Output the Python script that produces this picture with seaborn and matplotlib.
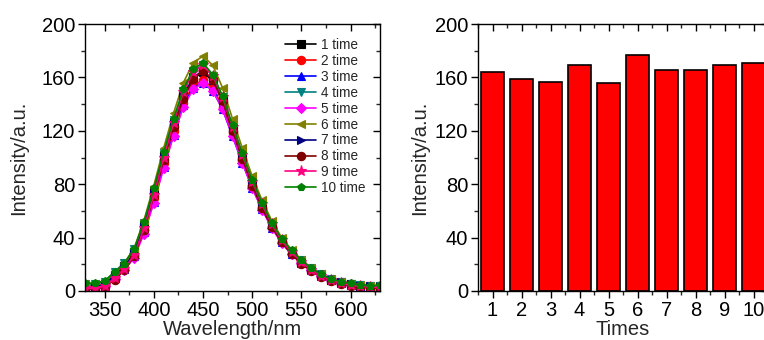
import numpy as np
import pandas as pd
import matplotlib
matplotlib.use("Agg")
import matplotlib.pyplot as plt
from matplotlib.ticker import MultipleLocator
import seaborn as sns

# ---------------- data ----------------
wavelength = list(range(330, 631, 10))

s1 = [3.5, 3.5, 5.5, 12, 18.5, 29, 49, 74, 101, 126, 146, 159, 164, 157, 142, 121, 100, 81, 64, 49.5, 38, 29, 22, 16.5, 12, 8.5, 6.5, 5, 4, 3.5, 3.5]
s2 = [3, 3, 4.5, 10.5, 17, 27, 46, 70, 96, 120, 141, 154, 158, 152, 138, 118, 98, 79, 62.5, 48, 37, 28, 21.5, 16, 11.5, 8, 6, 4.5, 3.5, 3, 3]
s3 = [2.5, 2.5, 4, 10, 16.5, 26, 44, 67, 93, 117, 139, 152, 156, 150, 136, 116, 96, 77.5, 61.5, 47.5, 36.5, 28, 21, 15.5, 11, 8, 6, 4.5, 3.5, 3, 3]
s4 = [5, 5, 7, 14.5, 21, 31.5, 51, 76, 103, 128, 150, 165, 169, 161, 145, 124, 103, 83, 66, 51, 39, 30, 23, 17, 12.5, 9, 7, 5.5, 4.5, 4, 4]
s5 = [2, 2, 3.5, 9, 15.5, 25, 43, 66, 92, 116, 138, 151, 156, 150, 136, 116, 96, 77, 61, 47, 36, 27.5, 21, 15.5, 11, 8, 6, 4.5, 3.5, 3, 2.5]
s6 = [5.5, 5.5, 7.5, 14, 21, 32, 53, 79, 107, 133, 156, 171, 176, 169, 152, 129, 107, 86, 68, 52.5, 40, 31, 23.5, 17.5, 12.5, 9, 7, 5.5, 4.5, 4, 4]
s7 = [3, 3, 5, 11.5, 18, 28.5, 48, 73, 100, 125, 146, 160, 165, 158, 143, 122, 101, 81, 64, 49.5, 38, 29, 22, 16.5, 12, 8.5, 6.5, 5, 4, 3.5, 3]
s8 = [1.5, 1.5, 3, 8.5, 15.5, 26, 46, 71, 98, 123, 144, 159, 165, 158, 142, 120, 99, 79, 62, 48, 36.5, 27.5, 20.5, 15, 10.5, 7.5, 5.5, 4, 3, 2.5, 2]
s9 = [2, 2, 3.5, 9.5, 16.5, 27, 47, 72, 100, 126, 149, 164, 169, 161, 145, 123, 102, 82, 65, 50, 38, 29, 22, 16, 11.5, 8, 6, 4.5, 3.5, 3, 2.5]
s10 = [6.0, 5.7, 7.6, 14, 20.5, 31.5, 52, 77, 104, 129, 151, 166, 171, 162, 146, 124, 103, 83, 66, 51, 39, 30.5, 23, 17, 12.5, 9, 7, 5.7, 4.5, 4, 4.2]

series_values = [s1, s2, s3, s4, s5, s6, s7, s8, s9, s10]
series_labels = ["1 time", "2 time", "3 time", "4 time", "5 time",
                 "6 time", "7 time", "8 time", "9 time", "10 time"]
series_colors = ["#000000", "#FF0000", "#0000FF", "#008080", "#FF00FF",
                 "#808000", "#000080", "#800000", "#FF0080", "#008000"]
series_markers = ["s", "o", "^", "v", "D", "<", ">", "o", "*", "p"]

times = ["1", "2", "3", "4", "5", "6", "7", "8", "9", "10"]
peak_intensity = [164, 158.5, 156.2, 169, 156, 176.5, 165.5, 165.7, 169, 170.7]

# ---------------- style ----------------
sns.set_theme(style="ticks")
plt.rcParams["font.family"] = ["Liberation Sans", "DejaVu Sans"]
plt.rcParams["axes.linewidth"] = 1.0

W, H = 764, 340
fig = plt.figure(figsize=(W / 100, H / 100), dpi=100)
fig.patch.set_facecolor("white")

ax1 = fig.add_axes([85 / W, (H - 291) / H, (380 - 85) / W, (291 - 24) / H])
ax2 = fig.add_axes([478 / W, (H - 291) / H, (768 - 478) / W, (291 - 24) / H])

FS = 14.5

# ---------------- left panel ----------------
for vals, lab, col, mk in zip(series_values, series_labels, series_colors, series_markers):
    ms = 5 if mk == "D" else (8 if mk == "*" else 6)
    sns.lineplot(x=wavelength, y=vals, ax=ax1, color=col, marker=mk,
                 markersize=ms, markeredgecolor=col, markerfacecolor=col,
                 markeredgewidth=0.8, linewidth=1.2, label=lab)

ax1.set_xlim(330, 630)
ax1.set_ylim(0, 200)
ax1.xaxis.set_major_locator(MultipleLocator(50))
ax1.xaxis.set_minor_locator(MultipleLocator(25))
ax1.yaxis.set_major_locator(MultipleLocator(40))
ax1.yaxis.set_minor_locator(MultipleLocator(20))
ax1.set_xlabel("Wavelength/nm", fontsize=FS, labelpad=0)
ax1.set_ylabel("Intensity/a.u.", fontsize=FS, labelpad=10)

leg = ax1.legend(loc="upper left", bbox_to_anchor=(285 / W, (H - 38) / H),
                 bbox_transform=fig.transFigure, frameon=False,
                 fontsize=9.8, labelspacing=0.14, handlelength=2.3,
                 handletextpad=0.35, borderpad=0, borderaxespad=0)

# ---------------- right panel ----------------
sns.barplot(x=times, y=peak_intensity, ax=ax2, color="#FF0000", saturation=1,
            edgecolor="black", linewidth=1.2, width=0.8)
ax2.set_xlim(-0.5, 9.5)
ax2.set_ylim(0, 200)
ax2.xaxis.set_minor_locator(MultipleLocator(1, offset=0.5))
ax2.yaxis.set_major_locator(MultipleLocator(40))
ax2.yaxis.set_minor_locator(MultipleLocator(20))
ax2.set_xlabel("Times", fontsize=FS, labelpad=0)
ax2.set_ylabel("Intensity/a.u.", fontsize=FS, labelpad=4)

for ax in (ax1, ax2):
    for sp in ax.spines.values():
        sp.set_visible(True)
        sp.set_color("black")
        sp.set_linewidth(1.0)
    ax.tick_params(axis="both", which="major", direction="out", length=5,
                   width=1.0, labelsize=FS, colors="black", pad=2,
                   top=True, right=True)
    ax.tick_params(axis="both", which="minor", direction="out", length=3,
                   width=1.0, top=True, right=True)
    ax.tick_params(axis="x", which="both", top=True, labeltop=False)
    ax.tick_params(axis="y", which="both", right=True, labelright=False)
    ax.set_facecolor("white")

# opposite-side ticks point inward
for ax in (ax1, ax2):
    for t in ax.xaxis.get_major_ticks() + ax.xaxis.get_minor_ticks():
        t.tick2line.set_marker(matplotlib.lines.TICKDOWN)
    for t in ax.yaxis.get_major_ticks() + ax.yaxis.get_minor_ticks():
        t.tick2line.set_marker(matplotlib.lines.TICKLEFT)

fig.savefig("out.png", dpi=100, facecolor="white")
